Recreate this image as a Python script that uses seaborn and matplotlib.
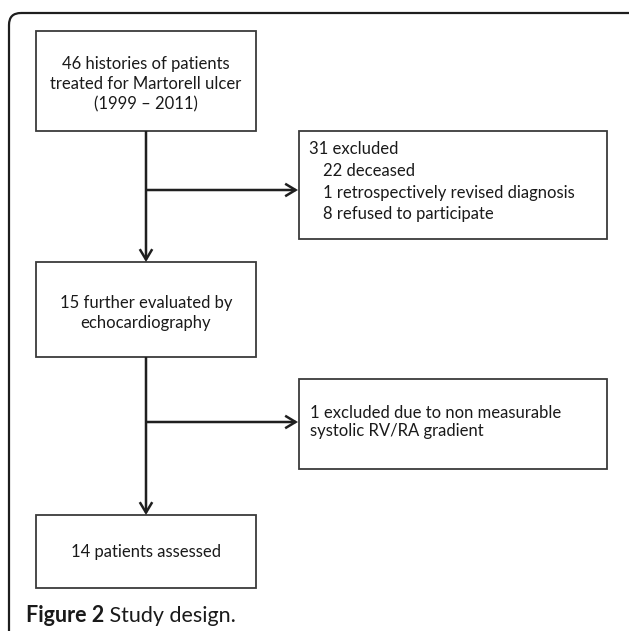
import matplotlib
matplotlib.use("Agg")
import matplotlib.pyplot as plt
from matplotlib.patches import Rectangle, FancyBboxPatch, FancyArrowPatch
import seaborn as sns

sns.set_theme(style="white")
plt.rcParams['font.family'] = ['Lato', 'DejaVu Sans']

# Flowchart content
main_labels = [
    "46 histories of patients\ntreated for Martorell ulcer\n(1999 \u2013 2011)",
    "15 further evaluated by\nechocardiography",
    "14 patients assessed",
]
side_header = "31 excluded"
side_items = ["22 deceased", "1 retrospectively revised diagnosis", "8 refused to participate"]
side_label2 = "1 excluded due to non measurable\nsystolic RV/RA gradient"
caption_bold = "Figure 2"
caption_rest = " Study design."

W, H = 629, 631
fig = plt.figure(figsize=(W / 100, H / 100), dpi=100)
ax = fig.add_axes([0, 0, 1, 1])
ax.set_xlim(0, W)
ax.set_ylim(H, 0)
ax.axis("off")

line_c = "#1f1f1f"
box_c = "#3a3a3a"
txt_c = "#1a1a1a"
fs = 12

# outer rounded frame (open at bottom / right edge)
frame = FancyBboxPatch((9, 13), 640, 700, boxstyle="round,pad=0,rounding_size=12",
                       fill=False, edgecolor="#1e1e1e", linewidth=1.6)
ax.add_patch(frame)

# main boxes (x0, y0, x1, y1)
main_boxes = [(36, 31, 256, 131), (36, 262, 256, 357), (36, 515, 256, 588)]
main_text_y = [84, 313, 552]
side_boxes = [(299, 131, 607, 239), (299, 379, 607, 469)]

for (x0, y0, x1, y1), lab, ty in zip(main_boxes, main_labels, main_text_y):
    ax.add_patch(Rectangle((x0, y0), x1 - x0, y1 - y0, fill=False,
                           edgecolor=box_c, linewidth=1.3))
    ax.text((x0 + x1) / 2, ty, lab, ha="center", va="center",
            fontsize=fs, color=txt_c, linespacing=1.3)

for (x0, y0, x1, y1) in side_boxes:
    ax.add_patch(Rectangle((x0, y0), x1 - x0, y1 - y0, fill=False,
                           edgecolor=box_c, linewidth=1.3))

# first exclusion box: header + indented items
ax.text(309, 149, side_header, ha="left", va="center", fontsize=fs, color=txt_c)
for i, item in enumerate(side_items):
    ax.text(323, 171 + 21.7 * i, item, ha="left", va="center", fontsize=fs, color=txt_c)

# second exclusion box
ax.text(310, 422, side_label2, ha="left", va="center", fontsize=fs,
        color=txt_c, linespacing=1.1)

cx = 146
def arrow(p0, p1):
    ax.add_patch(FancyArrowPatch(p0, p1, arrowstyle="->,head_length=0.75,head_width=0.45",
                                 color=line_c, linewidth=1.8, mutation_scale=10,
                                 shrinkA=0, shrinkB=0, joinstyle="miter", capstyle="butt"))

# vertical flows
arrow((cx, 131), (cx, 262))
arrow((cx, 357), (cx, 515))
# side flows
arrow((cx, 190), (298, 190))
arrow((cx, 422), (298, 422))

# caption
cy = 616
t = ax.text(26, cy, caption_bold, ha="left", va="center", fontsize=15.5,
            fontweight="bold", color=txt_c)
fig.canvas.draw()
bb = t.get_window_extent()
x_end = ax.transData.inverted().transform((bb.x1, bb.y0))[0]
ax.text(x_end, cy, caption_rest, ha="left", va="center", fontsize=15.5,
        color=txt_c)

fig.savefig("out.png", dpi=100)
